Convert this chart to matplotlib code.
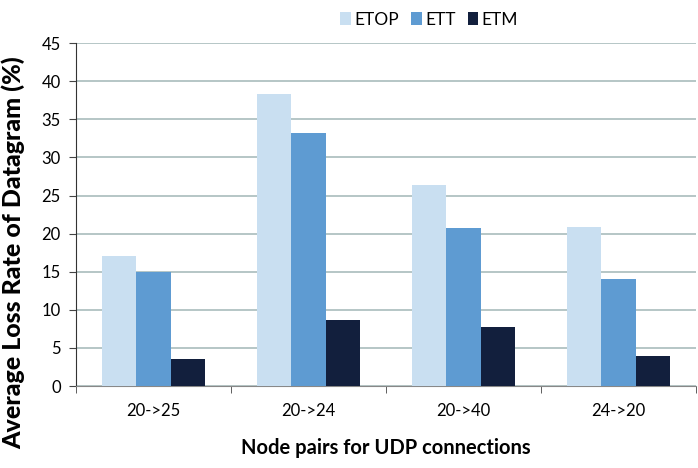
import numpy as np
import matplotlib
matplotlib.use("Agg")
import matplotlib.pyplot as plt

# data
pairs = ["20->25", "20->24", "20->40", "24->20"]
etop = [17.1, 38.3, 26.4, 20.9]
ett = [15.0, 33.2, 20.7, 14.0]
etm = [3.5, 8.7, 7.8, 4.0]
series_names = ["ETOP", "ETT", "ETM"]
colors = ["#c9dff1", "#5e9bd2", "#121f3d"]

plt.rcParams['font.family'] = ['Lato', 'DejaVu Sans']

fig = plt.figure(figsize=(6.98, 4.68), dpi=100)
ax = fig.add_axes([0.109, 0.175, 0.888, 0.733])

x = np.arange(len(pairs))
w = 0.223
for i, (vals, name) in enumerate(zip([etop, ett, etm], series_names)):
    ax.bar(x + (i - 1) * w, vals, width=w, color=colors[i], label=name, zorder=3)

ax.set_ylim(0, 45)
ax.set_yticks(range(0, 46, 5))
ax.set_xlim(-0.5, len(pairs) - 0.5)
ax.set_xticks(x)
ax.set_xticklabels(pairs, fontsize=12)
ax.set_xticks(np.arange(-0.5, len(pairs), 1), minor=True)
ax.tick_params(axis='x', which='major', length=0, pad=12)
ax.tick_params(axis='x', which='minor', length=5, color='#444444')
ax.tick_params(axis='y', length=5, labelsize=12, color='#444444', pad=6)

ax.grid(axis='y', color='#a9bcbc', linewidth=1.2, zorder=0)
for s in ['top', 'right']:
    ax.spines[s].set_visible(False)
ax.spines['left'].set_color('#333333')
ax.spines['bottom'].set_color('#888888')

ax.set_ylabel("Average Loss Rate of Datagram (%)", fontsize=18, fontweight='black')
ax.yaxis.set_label_coords(-0.082, 0.39)
ax.set_xlabel("Node pairs for UDP connections", fontsize=14.5, fontweight='bold', labelpad=14)

fig.legend(loc='upper center', bbox_to_anchor=(0.615, 1.008), ncol=3, frameon=False,
           fontsize=12.5, handlelength=0.6, handleheight=0.8, handletextpad=0.2, columnspacing=0.7)

fig.savefig("out.png", dpi=100)
